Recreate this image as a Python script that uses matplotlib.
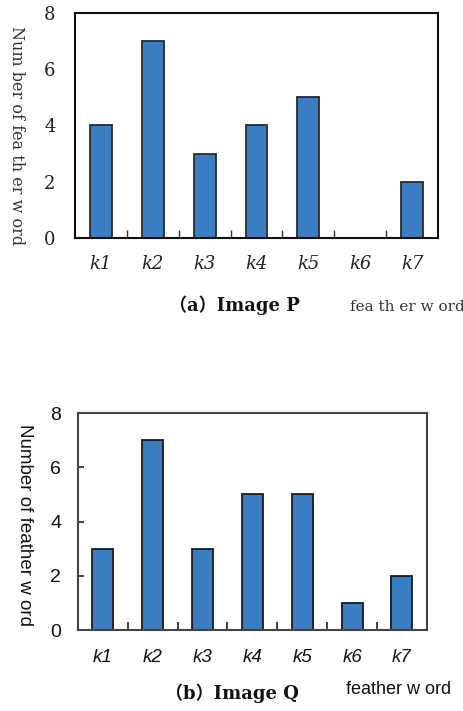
import matplotlib
matplotlib.use('Agg')
import matplotlib.pyplot as plt
import numpy as np

# 数据
categories = ['k1', 'k2', 'k3', 'k4', 'k5', 'k6', 'k7']
counts_p = [4, 7, 3, 4, 5, 0, 2]
counts_q = [3, 7, 3, 5, 5, 1, 2]
yticks = [0, 2, 4, 6, 8]

bar_color = '#3a7dc2'
serif = ['DejaVu Serif', 'Noto Sans CJK SC']
sans = ['Liberation Sans', 'Noto Sans CJK SC']

fig = plt.figure(figsize=(4.64, 7.11), dpi=100)
x = np.arange(len(categories))

# (a) Image P
ax1 = fig.add_axes([0.1616, 0.6653, 0.7823, 0.3164])
ax1.bar(x, counts_p, width=0.42, color=bar_color, edgecolor='#2a2a2a', linewidth=1.3)
ax1.set_xlim(-0.5, 6.5)
ax1.set_ylim(0, 8)
ax1.set_yticks(yticks)
ax1.set_yticklabels([str(v) for v in yticks], family=serif, fontsize=13, color='#222222')
ax1.set_xticks(x)
ax1.set_xticklabels(categories, family=serif, style='italic', fontsize=13, color='#222222')
ax1.set_xticks(np.arange(0.5, 6.5, 1), minor=True)
ax1.tick_params(axis='x', which='major', length=0, pad=12)
ax1.tick_params(axis='x', which='minor', direction='in', length=6, width=1, color='#333333')
ax1.tick_params(axis='y', length=0, pad=14)
for s in ax1.spines.values():
    s.set_linewidth(1.5)
    s.set_color('#111111')
fig.text(0.036, 0.809, 'Num ber of fea th er w ord', rotation=270, ha='center', va='center',
         family=serif, fontsize=11.5, color='#333333')
fig.text(0.505, 0.571, '（a）Image P', ha='center', va='center', family=serif,
         fontsize=13, fontweight='bold', color='#111111')
fig.text(0.877, 0.568, 'fea th er w ord', ha='center', va='center', family=serif,
         fontsize=11, color='#333333')

# (b) Image Q
ax2 = fig.add_axes([0.168, 0.1139, 0.752, 0.3052])
ax2.bar(x, counts_q, width=0.42, color=bar_color, edgecolor='#1a1a1a', linewidth=1.3)
ax2.set_xlim(-0.5, 6.5)
ax2.set_ylim(0, 8)
ax2.set_yticks(yticks)
ax2.set_yticklabels([str(v) for v in yticks], family=sans, fontsize=14, color='#111111')
ax2.set_xticks(x)
ax2.set_xticklabels(categories, family=sans, style='italic', fontsize=13.5, color='#111111')
ax2.set_xticks(np.arange(-0.5, 7.0, 1), minor=True)
ax2.tick_params(axis='x', which='major', length=0, pad=14)
ax2.tick_params(axis='x', which='minor', direction='in', length=6, width=1.2, color='#222222')
ax2.tick_params(axis='y', direction='in', length=4, width=1.2, color='#222222', pad=12)
for s in ax2.spines.values():
    s.set_linewidth(1.5)
    s.set_color('#444444')
fig.text(0.053, 0.262, 'Number of feather w ord', rotation=270, ha='center', va='center',
         family=sans, fontsize=13.5, color='#111111')
fig.text(0.5, 0.025, '（b）Image Q', ha='center', va='center', family=serif,
         fontsize=13, fontweight='bold', color='#111111')
fig.text(0.86, 0.03, 'feather w ord', ha='center', va='center', family=sans,
         fontsize=13, color='#111111')

fig.savefig('out.png', dpi=100)
plt.close(fig)
